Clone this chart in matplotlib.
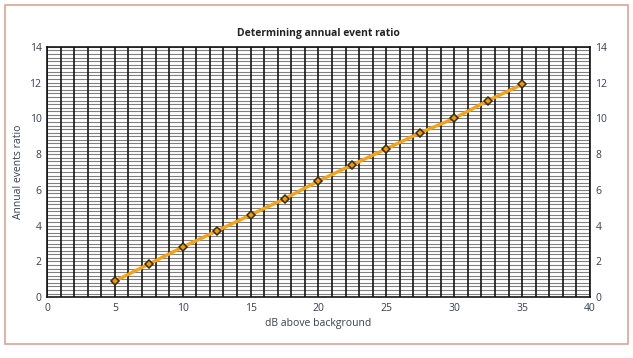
import matplotlib.pyplot as plt
import numpy as np
from matplotlib.patches import Rectangle

# data
db_above = [5, 7.5, 10, 12.5, 15, 17.5, 20, 22.5, 25, 27.5, 30, 32.5, 35]
event_ratio = [0.9, 1.85, 2.8, 3.7, 4.6, 5.5, 6.5, 7.4, 8.3, 9.2, 10.0, 11.0, 11.9]
x_ticks = [0, 5, 10, 15, 20, 25, 30, 35, 40]
y_ticks = [0, 2, 4, 6, 8, 10, 12, 14]

plt.rcParams["font.family"] = ["Open Sans", "DejaVu Sans"]
text_color = "#36404f"

fig = plt.figure(figsize=(6.33, 3.58), dpi=100)
fig.patches.append(Rectangle((0.008, 0.04), 0.984, 0.945, transform=fig.transFigure,
                             fill=False, edgecolor="#d9a39c", lw=1.2))

ax = fig.add_axes([0.0742, 0.170, 0.8578, 0.699])
ax.set_xlim(0, 40)
ax.set_ylim(0, 14)

# graph-paper grid
for yv in np.arange(0, 14.01, 0.2):
    ax.axhline(yv, color="#808080", lw=0.8, zorder=1)
for xv in np.arange(0, 41, 1):
    ax.axvline(xv, color="#151515", lw=1.2, zorder=1.5)

ax.plot(db_above, event_ratio, color="#f2a31b", lw=2.4, zorder=3,
        marker="D", markersize=4.5, markerfacecolor="#e89a10",
        markeredgecolor="#3a2a10", markeredgewidth=1.1)

ax.set_xticks(x_ticks)
ax.set_yticks(y_ticks)
ax.tick_params(length=0, labelsize=7.5, colors=text_color, pad=4,
               labelright=True, right=True)
for spine in ax.spines.values():
    spine.set_color("#151515")
    spine.set_linewidth(1.2)

ax.set_xlabel("dB above background", fontsize=7.5, color=text_color, labelpad=3)
ax.set_ylabel("Annual events ratio", fontsize=7.5, color=text_color, labelpad=4)
ax.set_title("Determining annual event ratio", fontsize=7.5, fontweight="bold",
             color="#222222", pad=8)

fig.savefig("out.png", dpi=100)
